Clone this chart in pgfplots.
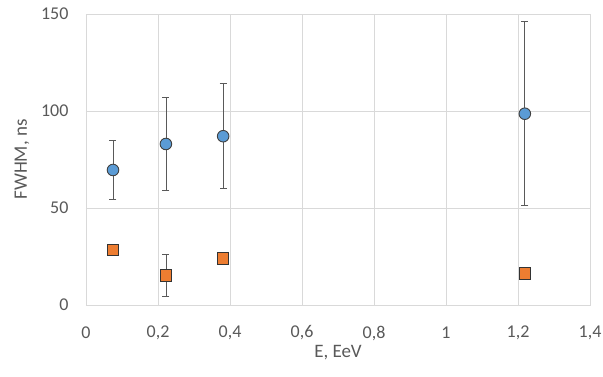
\documentclass[border=0pt]{standalone}
\usepackage{pgfplots}
\pgfplotsset{compat=1.18}
\usepackage{fontspec}
\setmainfont{Carlito}
\definecolor{tickgray}{HTML}{595959}
\definecolor{gridgray}{HTML}{D9D9D9}
\definecolor{xlblue}{HTML}{5B9BD5}
\definecolor{xlorange}{HTML}{ED7D31}
\begin{document}
\begin{tikzpicture}
\path[use as bounding box] (-86pt,-71pt) rectangle (517pt,305pt);
\begin{axis}[
  at={(0,0)}, anchor=south west,
  scale only axis, width=504pt, height=291pt,
  xmin=0, xmax=1.4, ymin=0, ymax=150,
  xtick={0,0.2,...,1.4}, ytick={0,50,100,150},
  xticklabels={0,{0,2},{0,4},{0,6},{0,8},1,{1,2},{1,4}},
  grid=major, major grid style={gridgray, line width=0.8pt},
  axis line style={gridgray, line width=0.8pt},
  tick style={draw=none},
  tick label style={font=\fontsize{18}{20}\selectfont, text=tickgray},
  label style={font=\fontsize{19}{22}\selectfont, text=tickgray},
  /pgf/number format/assume math mode=true,
  xlabel={E, EeV}, ylabel={FWHM, ns},
  xticklabel style={anchor=center, yshift=-28pt},
  yticklabel style={anchor=east, xshift=-14pt},
  xlabel style={anchor=center, at={(axis description cs:0.5,0)}, yshift=-48pt},
  ylabel style={anchor=center, at={(axis description cs:0,0.5)}, rotate=0, yshift=64pt},
]
\addplot[only marks, mark=*, mark size=5.8pt,
  mark options={fill=xlblue, draw=black!75, line width=0.9pt},
  error bars/.cd, y dir=both, y explicit,
  error bar style={black!65, line width=0.7pt},
  error mark options={rotate=90, mark size=3.5pt, black!65, line width=0.7pt}]
  coordinates {
  (0.075,69.6) +- (0,15.2)
  (0.222,83.0) +- (0,23.8)
  (0.381,87.0) +- (0,27.0)
  (1.219,98.6) +- (0,47.4)
  };
\addplot[only marks, mark=square*, mark size=5.7pt,
  mark options={fill=xlorange, draw=black!80, line width=0.9pt},
  error bars/.cd, y dir=both, y explicit,
  error bar style={black!65, line width=0.7pt},
  error mark options={rotate=90, mark size=3.5pt, black!65, line width=0.7pt}]
  coordinates {
  (0.075,28.5) +- (0,0)
  (0.222,15.3) +- (0,10.8)
  (0.381,24.0) +- (0,0)
  (1.219,16.3) +- (0,1.2)
  };
\end{axis}
\end{tikzpicture}
\end{document}
